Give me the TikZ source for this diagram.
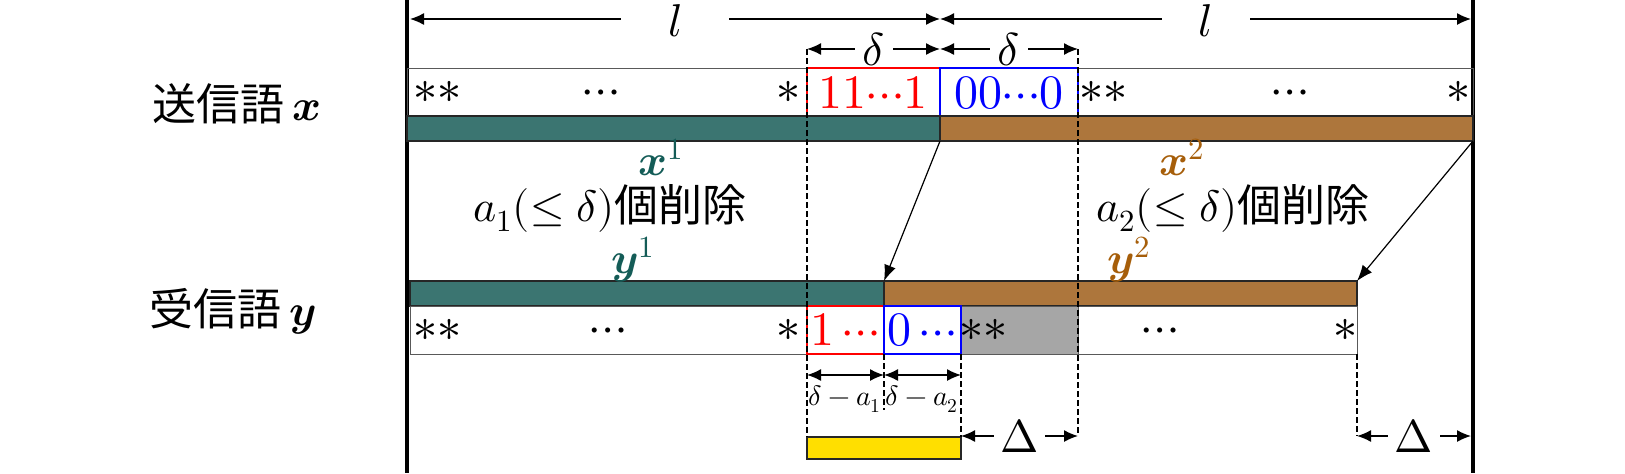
\documentclass[tikz,border=0pt]{standalone}
\usepackage{fontspec}
\usepackage{unicode-math}
\setmathfont{Latin Modern Math}
\newfontfamily\jp{Noto Sans CJK JP}
\usetikzlibrary{arrows.meta}

\definecolor{tealbar}{HTML}{3B7571}
\definecolor{brownbar}{HTML}{AD763C}
\definecolor{tealtxt}{HTML}{145C57}
\definecolor{browntxt}{HTML}{A65E0A}
\definecolor{graycell}{HTML}{A6A6A6}
\definecolor{yellowbar}{HTML}{FFDF00}

\tikzset{
  dim/.style={{Latex[length=7pt,width=6pt]}-{Latex[length=7pt,width=6pt]},line width=0.7pt},
  guide/.style={line width=0.7pt,dash pattern=on 3pt off 1.5pt},
  wall/.style={line width=2.2pt},
  bar/.style={draw=black!85,line width=0.6pt},
  cell/.style={draw=black!65,line width=0.5pt},
  redbox/.style={draw=red,line width=1.2pt},
  bluebox/.style={draw=blue,line width=1.2pt},
  big/.style={font=\fontsize{22}{26}\selectfont},
  dimtxt/.style={font=\fontsize{23}{26}\selectfont},
  rowtxt/.style={font=\fontsize{24}{26}\selectfont,inner sep=0pt},
}

\begin{document}
\begin{tikzpicture}[x=0.5pt,y=-0.5pt]
  \useasboundingbox (0,0) rectangle (1625,473);

  % walls
  \draw[wall] (407,0) -- (407,473);
  \draw[wall] (1473,0) -- (1473,473);

  % sent word
  \draw[cell] (407,68) rectangle (1473,116);
  \draw[redbox] (807,68) rectangle (940,116);
  \draw[bluebox] (940,68) rectangle (1078,116);
  \draw[bar,fill=tealbar] (407,116) rectangle (940,141);
  \draw[bar,fill=brownbar] (940,116) rectangle (1473,141);

  % received word
  \draw[bar,fill=tealbar] (410,281) rectangle (884,306);
  \draw[bar,fill=brownbar] (884,281) rectangle (1357,306);
  \draw[cell] (410,306) rectangle (1357,354);
  \draw[cell,fill=graycell] (961,306) rectangle (1078,354);
  \draw[redbox] (807,306) rectangle (884,354);
  \draw[bluebox] (884,306) rectangle (961,354);
  \draw[bar,fill=yellowbar] (807,437) rectangle (961,459);

  % guides
  \draw[guide] (807,49) -- (807,437);
  \draw[guide] (1078,49) -- (1078,436);
  \draw[guide] (884,354) -- (884,410);
  \draw[guide] (961,354) -- (961,437);
  \draw[guide] (1357,354) -- (1357,436);

  \coordinate (xs) at (940,141);
  \coordinate (xe) at (1473,141);
  \coordinate (ys) at (884,281);
  \coordinate (ye) at (1357,281);
  \draw[-{Latex[length=8pt,width=6pt]},line width=0.6pt] (xs) -- (ys);
  \draw[-{Latex[length=8pt,width=6pt]},line width=0.6pt] (xe) -- (ye);

  \coordinate (t1) at (410,19);
  \coordinate (t2) at (940,19);
  \coordinate (t3) at (1471,19);
  \coordinate (d1) at (807,49);
  \coordinate (d2) at (940,49);
  \coordinate (d3) at (1078,49);
  \coordinate (s1) at (807,375);
  \coordinate (s2) at (884,375);
  \coordinate (s3) at (961,375);
  \coordinate (g1) at (961,436);
  \coordinate (g2) at (1078,436);
  \coordinate (g3) at (1357,436);
  \coordinate (g4) at (1471,436);

  \begin{scope}[every node/.style={fill=white,dimtxt,inner ysep=0pt}]
    \path (t1) edge[dim] node[minimum width=54pt,yshift=-1pt] (l1) {$l$} (t2);
    \path (t2) edge[dim] node[minimum width=44pt,yshift=-1pt] (l2) {$l$} (t3);
    \path (d1) edge[dim] node[minimum width=19pt] (dl1) {$\delta$} (d2);
    \path (d2) edge[dim] node[minimum width=19pt] (dl2) {$\delta$} (d3);
    \path (g1) edge[dim] node[minimum width=20pt] (gl1) {$\Delta$} (g2);
    \path (g3) edge[dim] node[minimum width=20pt] (gl2) {$\Delta$} (g4);
  \end{scope}
  \path (s1) edge[dim] (s2);
  \path (s2) edge[dim] (s3);

  % row texts
  \begin{scope}[every node/.style={rowtxt}]
    \node (rx1) at (437,92) {$\ast\ast$};
    \node (rx2) at (601,97) {${\cdots}$};
    \node (rx3) at (788,92) {$\ast$};
    \node[text=red] (rx4) at (873,93) {$11{\cdots}1$};
    \node[text=blue] (rx5) at (1009,93) {$00{\cdots}0$};
    \node (rx6) at (1103,92) {$\ast\ast$};
    \node (rx7) at (1290,97) {${\cdots}$};
    \node (rx8) at (1458,92) {$\ast$};

    \node (ry1) at (437,330) {$\ast\ast$};
    \node (ry2) at (608,335) {${\cdots}$};
    \node (ry3) at (788,330) {$\ast$};
    \node[text=red] (ry4) at (845,330) {$1\,{\cdots}$};
    \node[text=blue] (ry5) at (922,330) {$0\,{\cdots}$};
    \node (ry6) at (983,330) {$\ast\ast$};
    \node (ry7) at (1160,335) {${\cdots}$};
    \node (ry8) at (1345,330) {$\ast$};
  \end{scope}

  % labels
  \begin{scope}[every node/.style={big,inner sep=1pt}]
    \node (snd) at (237,104) {{\jp 送信語}\,$\symbfit{x}$};
    \node (rcv) at (233,311) {{\jp 受信語}\,$\symbfit{y}$};
    \node[text=tealtxt] (x1) at (661,157) {$\symbfit{x}^1$};
    \node (del1) at (610,208) {$a_1(\leq\delta)${\jp 個削除}};
    \node[text=tealtxt] (y1) at (633,260) {$\symbfit{y}^1$};
    \node[text=browntxt] (x2) at (1182,157) {$\symbfit{x}^2$};
    \node (del2) at (1233,208) {$a_2(\leq\delta)${\jp 個削除}};
    \node[text=browntxt] (y2) at (1129,260) {$\symbfit{y}^2$};
  \end{scope}
  \node[font=\fontsize{14}{16}\selectfont,inner sep=1pt] (m1) at (845,399) {$\delta-a_1$};
  \node[font=\fontsize{14}{16}\selectfont,inner sep=1pt] (m2) at (922,399) {$\delta-a_2$};

\end{tikzpicture}
\end{document}
